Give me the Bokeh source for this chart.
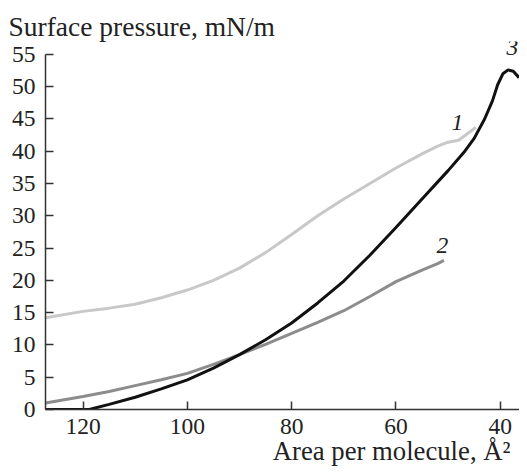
from bokeh.plotting import figure
from bokeh.models import Range1d, FixedTicker, Title
from bokeh.embed import file_html
from bokeh.resources import INLINE
from bokeh.core.properties import value

# Curve 1 (light gray)
x1 = [127.2, 120, 115, 110, 105, 100, 95, 90, 85, 80, 75, 70, 65, 60, 55, 52, 50, 48, 46.5, 44.7]
y1 = [14.2, 15.2, 15.7, 16.3, 17.3, 18.5, 20.0, 21.9, 24.3, 27.1, 30.0, 32.6, 35.0, 37.4, 39.6, 40.8, 41.4, 41.7, 42.6, 43.7]
# Curve 2 (medium gray)
x2 = [127.2, 120, 115, 110, 105, 100, 95, 90, 85, 80, 75, 70, 65, 60, 55, 52, 50.8]
y2 = [1.0, 2.0, 2.8, 3.7, 4.6, 5.6, 7.0, 8.5, 10.1, 11.8, 13.5, 15.3, 17.5, 19.8, 21.6, 22.6, 23.1]
# Curve 3 (black)
x3 = [127.2, 118.8, 115, 110, 105, 100, 95, 90, 85, 80, 75, 70, 65, 60, 55, 50, 47, 45, 43, 41.5, 40.5, 39.5, 38.5, 37.5, 36.4]
y3 = [0.0, 0.0, 0.8, 1.9, 3.2, 4.6, 6.4, 8.5, 10.8, 13.4, 16.5, 19.9, 23.9, 28.2, 32.6, 37.0, 39.8, 42.0, 45.0, 47.8, 50.3, 52.0, 52.6, 52.4, 51.4]

curve_labels = ["1", "2", "3"]
label_x = [48.2, 51.1, 37.7]
label_y = [44.5, 25.4, 56.0]

x_ticks = [120, 100, 80, 60, 40]
y_ticks = list(range(0, 60, 5))

FONT = "Liberation Serif"

p = figure(output_backend="svg", toolbar_location=None,
           width=519, height=466,
           x_range=Range1d(127.2, 36.31), y_range=Range1d(0, 57.0),
           min_border_left=45, min_border_right=0, min_border_top=41, min_border_bottom=57)

p.title = Title(text="Surface pressure, mN/m", align="left", offset=-37, standoff=0,
                text_font=FONT, text_font_size="27.5px", text_font_style="normal",
                text_color="#222222")
p.add_layout(Title(text="Area per molecule, Å²", align="right", offset=9, standoff=-6,
                   text_font=FONT, text_font_size="26.7px", text_font_style="normal",
                   text_color="#222222"), "below")

p.grid.visible = False
p.outline_line_color = None
p.background_fill_color = "white"
p.border_fill_color = "white"

p.axis.axis_line_color = "#333333"
p.axis.axis_line_width = 1.5
p.axis.major_tick_line_color = "#333333"
p.axis.major_tick_line_width = 1.5
p.axis.major_tick_in = 8
p.axis.major_tick_out = 0
p.axis.minor_tick_line_color = None
p.axis.major_label_text_font = FONT
p.axis.major_label_text_font_size = "23.5px"
p.axis.major_label_text_color = "#222222"

p.xaxis.ticker = FixedTicker(ticks=x_ticks)
p.yaxis.ticker = FixedTicker(ticks=y_ticks)
p.yaxis.bounds = (0, 55)
p.xaxis.major_label_standoff = 9
p.yaxis.major_label_standoff = 10

p.line(x1, y1, line_color="#c8c8c8", line_width=3)
p.line(x2, y2, line_color="#8c8c8c", line_width=3)
p.line(x3, y3, line_color="#111111", line_width=3)

p.text(x=label_x, y=label_y, text=curve_labels, text_font=value(FONT),
       text_font_size="23.5px", text_font_style="italic", text_color="#222222",
       text_align="center", text_baseline="middle")

open("out.html", "w").write(file_html(p, INLINE))
